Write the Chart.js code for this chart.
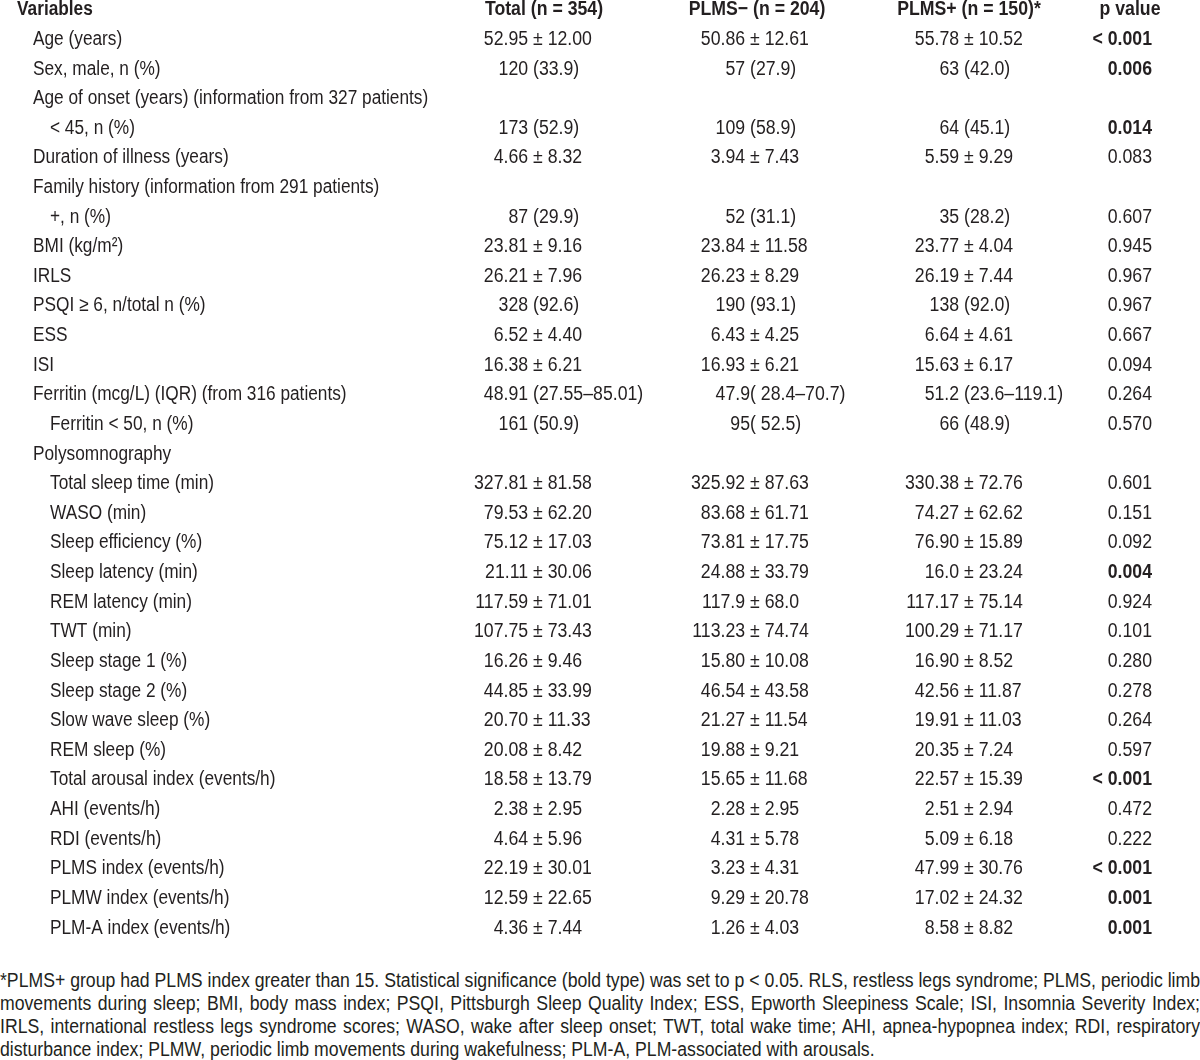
<!DOCTYPE html>
<html>
<head>
<meta charset="utf-8">
<script src="https://cdn.jsdelivr.net/npm/chart.js@4.4.1/dist/chart.umd.min.js"></script>
<style>
  html, body { margin: 0; padding: 0; background: #fff; }
  #wrap { width: 1200px; overflow: hidden; }
  #note {
    font-family: "Liberation Sans", Arial, sans-serif;
    font-size: 20px; line-height: 23px; color: #231f20;
    margin-top: 9px; width: 1200px;
  }
  /* chữ hẹp: kéo ngang, hệ số đặt bằng JS bên dưới */
  #note span {
    display: block; width: 1400px; white-space: nowrap;
    text-align: justify; text-align-last: justify;
    transform: scaleX(0.86); transform-origin: 0 0;
  }
  #note span.last { text-align-last: left; }
</style>
</head>
<body>
<div id="wrap">
  <canvas id="tableChart" width="1200" height="960"></canvas>
  <div id="note">
    <span>*PLMS+ group had PLMS index greater than 15. Statistical significance (bold type) was set to p &lt; 0.05. RLS, restless legs syndrome; PLMS, periodic limb</span>
    <span>movements during sleep; BMI, body mass index; PSQI, Pittsburgh Sleep Quality Index; ESS, Epworth Sleepiness Scale; ISI, Insomnia Severity Index;</span>
    <span>IRLS, international restless legs syndrome scores; WASO, wake after sleep onset; TWT, total wake time; AHI, apnea-hypopnea index; RDI, respiratory</span>
    <span class="last">disturbance index; PLMW, periodic limb movements during wakefulness; PLM-A, PLM-associated with arousals.</span>
  </div>
</div>
<script>
// Tiêu đề cột
const headers = ['Variables', 'Total (n = 354)', 'PLMS\u2212 (n = 204)', 'PLMS+ (n = 150)*', 'p value'];

// Tên biến và mức thụt lề (1 = nhóm chính, 2 = dòng con)
const variables = [
    'Age (years)', 'Sex, male, n (%)', 'Age of onset (years) (information from 327 patients)', '< 45, n (%)',
    'Duration of illness (years)', 'Family history (information from 291 patients)', '+, n (%)',
    'BMI (kg/m\u00b2)', 'IRLS', 'PSQI \u2265 6, n/total n (%)', 'ESS', 'ISI',
    'Ferritin (mcg/L) (IQR) (from 316 patients)', 'Ferritin < 50, n (%)', 'Polysomnography',
    'Total sleep time (min)', 'WASO (min)', 'Sleep efficiency (%)', 'Sleep latency (min)', 'REM latency (min)',
    'TWT (min)', 'Sleep stage 1 (%)', 'Sleep stage 2 (%)', 'Slow wave sleep (%)', 'REM sleep (%)',
    'Total arousal index (events/h)', 'AHI (events/h)', 'RDI (events/h)', 'PLMS index (events/h)',
    'PLMW index (events/h)', 'PLM-A index (events/h)'
];
const indentLevels = [1, 1, 1, 2, 1, 1, 2, 1, 1, 1, 1, 1, 1, 2, 1, 2, 2, 2, 2, 2, 2, 2, 2, 2, 2, 2, 2, 2, 2, 2, 2];

const totalValues = [
    '52.95 \u00b1 12.00', '120 (33.9)', '', '173 (52.9)', '4.66 \u00b1 8.32', '', '87 (29.9)',
    '23.81 \u00b1 9.16', '26.21 \u00b1 7.96', '328 (92.6)', '6.52 \u00b1 4.40', '16.38 \u00b1 6.21',
    '48.91 (27.55\u201385.01)', '161 (50.9)', '',
    '327.81 \u00b1 81.58', '79.53 \u00b1 62.20', '75.12 \u00b1 17.03', '21.11 \u00b1 30.06', '117.59 \u00b1 71.01',
    '107.75 \u00b1 73.43', '16.26 \u00b1 9.46', '44.85 \u00b1 33.99', '20.70 \u00b1 11.33', '20.08 \u00b1 8.42',
    '18.58 \u00b1 13.79', '2.38 \u00b1 2.95', '4.64 \u00b1 5.96', '22.19 \u00b1 30.01', '12.59 \u00b1 22.65', '4.36 \u00b1 7.44'
];
const plmsNegValues = [
    '50.86 \u00b1 12.61', '57 (27.9)', '', '109 (58.9)', '3.94 \u00b1 7.43', '', '52 (31.1)',
    '23.84 \u00b1 11.58', '26.23 \u00b1 8.29', '190 (93.1)', '6.43 \u00b1 4.25', '16.93 \u00b1 6.21',
    '47.9( 28.4\u201370.7)', '95( 52.5)', '',
    '325.92 \u00b1 87.63', '83.68 \u00b1 61.71', '73.81 \u00b1 17.75', '24.88 \u00b1 33.79', '117.9 \u00b1 68.0',
    '113.23 \u00b1 74.74', '15.80 \u00b1 10.08', '46.54 \u00b1 43.58', '21.27 \u00b1 11.54', '19.88 \u00b1 9.21',
    '15.65 \u00b1 11.68', '2.28 \u00b1 2.95', '4.31 \u00b1 5.78', '3.23 \u00b1 4.31', '9.29 \u00b1 20.78', '1.26 \u00b1 4.03'
];
const plmsPosValues = [
    '55.78 \u00b1 10.52', '63 (42.0)', '', '64 (45.1)', '5.59 \u00b1 9.29', '', '35 (28.2)',
    '23.77 \u00b1 4.04', '26.19 \u00b1 7.44', '138 (92.0)', '6.64 \u00b1 4.61', '15.63 \u00b1 6.17',
    '51.2 (23.6\u2013119.1)', '66 (48.9)', '',
    '330.38 \u00b1 72.76', '74.27 \u00b1 62.62', '76.90 \u00b1 15.89', '16.0 \u00b1 23.24', '117.17 \u00b1 75.14',
    '100.29 \u00b1 71.17', '16.90 \u00b1 8.52', '42.56 \u00b1 11.87', '19.91 \u00b1 11.03', '20.35 \u00b1 7.24',
    '22.57 \u00b1 15.39', '2.51 \u00b1 2.94', '5.09 \u00b1 6.18', '47.99 \u00b1 30.76', '17.02 \u00b1 24.32', '8.58 \u00b1 8.82'
];
const pValues = [
    '< 0.001', '0.006', '', '0.014', '0.083', '', '0.607',
    '0.945', '0.967', '0.967', '0.667', '0.094',
    '0.264', '0.570', '',
    '0.601', '0.151', '0.092', '0.004', '0.924',
    '0.101', '0.280', '0.278', '0.264', '0.597',
    '< 0.001', '0.472', '0.222', '< 0.001', '0.001', '0.001'
];

// Bố cục (đơn vị trục x = pixel)
const FONT = '"Liberation Sans", Arial, sans-serif';
const FONT_SIZE = 20;
const SQUEEZE_LABEL = 0.863; // giả lập font chữ hẹp
const SQUEEZE_VALUE = 0.885;
const INK = '#231f20';
const headerX = [17, 544, 757, 969, 1130];
const colX = [17, 533, 750, 964, 1152];   // cột số: căn theo dấu ± hoặc "("
const indentX = [17, 33, 50];

function isSignificant(p) {
    if (!p) return false;
    if (p.trim().startsWith('<')) return true;
    return parseFloat(p) < 0.05;
}

const columns = [variables, totalValues, plmsNegValues, plmsPosValues, pValues];
const datasets = columns.map((col, c) => ({
    label: headers[c],
    cells: [headers[c]].concat(col),
    data: [headers[c]].concat(col).map((_, r) => ({
        x: r === 0 ? headerX[c] : (c === 0 ? indentX[indentLevels[r - 1]] : colX[c]),
        y: r
    })),
    pointRadius: 0,
    pointHoverRadius: 0,
    showLine: false
}));

function drawCell(ctx, txt, x, y, c, r) {
    const s = c === 0 ? SQUEEZE_LABEL : SQUEEZE_VALUE;
    ctx.save();
    ctx.scale(s, 1);
    if (r === 0) {
        ctx.textAlign = c === 0 ? 'left' : 'center';
        ctx.fillText(txt, x / s, y);
    } else if (c === 0) {
        ctx.textAlign = 'left';
        ctx.fillText(txt, x / s, y);
    } else if (c === 4) {
        ctx.textAlign = 'right';
        ctx.fillText(txt, x / s, y);
    } else {
        const idx = txt.search(/[\u00b1(]/);
        if (idx < 0) {
            ctx.textAlign = 'center';
            ctx.fillText(txt, x / s, y);
        } else {
            ctx.textAlign = 'right';
            ctx.fillText(txt.slice(0, idx), x / s, y);
            ctx.textAlign = 'left';
            ctx.fillText(txt.slice(idx), x / s, y);
        }
    }
    ctx.restore();
}

const cellText = {
    id: 'cellText',
    afterDatasetsDraw(chart) {
        const ctx = chart.ctx;
        ctx.save();
        ctx.fillStyle = INK;
        ctx.textBaseline = 'middle';
        chart.data.datasets.forEach((ds, c) => {
            const meta = chart.getDatasetMeta(c);
            meta.data.forEach((pt, r) => {
                const txt = ds.cells[r];
                if (!txt) return;
                const bold = r === 0 || (c === 4 && isSignificant(txt));
                ctx.font = (bold ? 'bold ' : '') + FONT_SIZE + 'px ' + FONT;
                drawCell(ctx, txt, pt.x, pt.y, c, r);
            });
        });
        ctx.restore();
    }
};

const tableCtx = document.getElementById('tableChart').getContext('2d');
new Chart(tableCtx, {
    type: 'scatter',
    data: { datasets: datasets },
    options: {
        responsive: false,
        animation: false,
        devicePixelRatio: 1,
        layout: { padding: 0 },
        plugins: {
            legend: { display: false },
            tooltip: { enabled: false }
        },
        scales: {
            x: { type: 'linear', display: false, min: 0, max: 1200 },
            y: { type: 'linear', display: false, reverse: true, min: -0.33, max: 32.08 }
        }
    },
    plugins: [cellText]
});

// Chú thích: co ngang từng dòng cho vừa 1200px
document.querySelectorAll('#note span').forEach(s => {
    s.style.display = 'inline-block';
    s.style.width = 'auto';
    s.style.transform = 'none';
    const natural = s.offsetWidth;
    const k = Math.min(0.883, 1200 / natural);
    s.style.display = 'block';
    s.style.width = (1200 / k) + 'px';
    s.style.transform = 'scaleX(' + k + ')';
});
</script>
</body>
</html>
